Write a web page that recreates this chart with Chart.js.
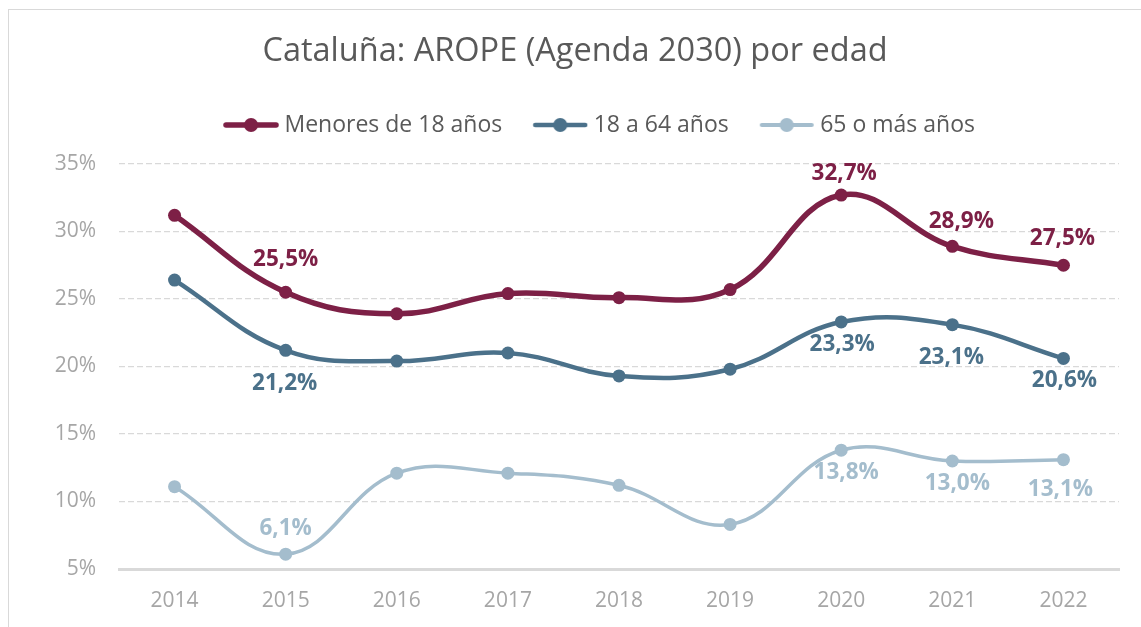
<!DOCTYPE html>
<html>
<head>
<meta charset="utf-8">
<script src="https://cdn.jsdelivr.net/npm/chart.js@4.4.0/dist/chart.umd.min.js"></script>
<style>
    html, body { margin: 0; padding: 0; background: #fff; overflow: hidden; }
    #marco { position: absolute; left: 8px; top: 9px; width: 1140px; height: 640px; border: 1px solid #d9d9d9; }
    #contenedor { position: absolute; left: 0; top: 0; width: 1141px; height: 627px; }
</style>
</head>
<body>
<div id="marco"></div>
<div id="contenedor"><canvas id="grafico"></canvas></div>
<script>
// Datos (AROPE Agenda 2030, Cataluña, %)
const anios = ['2014', '2015', '2016', '2017', '2018', '2019', '2020', '2021', '2022'];
const menores18 = [31.2, 25.5, 23.9, 25.4, 25.1, 25.7, 32.7, 28.9, 27.5];
const de18a64 = [26.4, 21.2, 20.4, 21.0, 19.3, 19.8, 23.3, 23.1, 20.6];
const mas65 = [11.1, 6.1, 12.1, 12.1, 11.2, 8.3, 13.8, 13.0, 13.1];
const ticksEjeY = [5, 10, 15, 20, 25, 30, 35];

// Colores de cada serie
const COLOR_MENORES = '#7d2046';
const COLOR_ADULTOS = '#4b718a';
const COLOR_MAYORES = '#a4bdcd';
const GRIS_TEXTO = '#595959';
const GRIS_EJES = '#a6a6a6';

// Qué puntos llevan etiqueta y dónde (índice, dx, dy respecto al punto)
const etiquetasSerie = [
    [[1, 0, -33], [6, 3, -21], [7, 9, -25], [8, -1, -27]],
    [[1, -1, 33], [6, 1, 23], [7, -1, 33], [8, 1, 22]],
    [[1, 0, -26], [6, 5, 22], [7, 5, 23], [8, -3, 30]]
];

// Función para formatear porcentajes con coma decimal
function formatoPct(v) {
    return v.toFixed(1).replace('.', ',') + '%';
}

// Marcador de leyenda: línea con círculo en medio
function marcadorLeyenda(color, grosor) {
    const c = document.createElement('canvas');
    c.width = 56;
    c.height = 16;
    const g = c.getContext('2d');
    g.strokeStyle = color;
    g.lineWidth = grosor;
    g.lineCap = 'round';
    g.beginPath();
    g.moveTo(3, 8);
    g.lineTo(53, 8);
    g.stroke();
    g.fillStyle = color;
    g.beginPath();
    g.arc(28, 8, 7, 0, Math.PI * 2);
    g.fill();
    return c;
}

const marcadores = [
    marcadorLeyenda(COLOR_MENORES, 5.5),
    marcadorLeyenda(COLOR_ADULTOS, 4.5),
    marcadorLeyenda(COLOR_MAYORES, 4)
];

// Plugin para dibujar las etiquetas de valor
const pluginEtiquetas = {
    id: 'etiquetas',
    afterDatasetsDraw(chart) {
        const ctx = chart.ctx;
        ctx.save();
        ctx.font = 'bold 22.5px "Open Sans"';
        ctx.textAlign = 'center';
        ctx.textBaseline = 'middle';
        chart.data.datasets.forEach((ds, i) => {
            const meta = chart.getDatasetMeta(i);
            ctx.fillStyle = ds.borderColor;
            etiquetasSerie[i].forEach(([idx, dx, dy]) => {
                const punto = meta.data[idx];
                ctx.fillText(formatoPct(ds.data[idx]), punto.x + dx, punto.y + dy);
            });
        });
        ctx.restore();
    }
};

// La leyenda de Excel queda un poco a la izquierda del centro del área
const pluginLeyenda = {
    id: 'ajusteLeyenda',
    afterLayout(chart) {
        chart.legend.left -= 17;
        chart.legend.right -= 17;
    }
};

function serie(etiqueta, datos, color, grosor) {
    return {
        label: etiqueta,
        data: datos,
        borderColor: color,
        backgroundColor: color,
        borderWidth: grosor,
        pointRadius: 6.5,
        pointHoverRadius: 6.5,
        pointBackgroundColor: color,
        pointBorderWidth: 0,
        tension: 0.4,
        fill: false
    };
}

const ctx = document.getElementById('grafico').getContext('2d');
new Chart(ctx, {
    type: 'line',
    data: {
        labels: anios,
        datasets: [
            serie('Menores de 18 años', menores18, COLOR_MENORES, 5.5),
            serie('18 a 64 años', de18a64, COLOR_ADULTOS, 4.5),
            serie('65 o más años', mas65, COLOR_MAYORES, 3.5)
        ]
    },
    options: {
        responsive: true,
        maintainAspectRatio: false,
        animation: false,
        layout: { padding: { left: 31, right: 22, top: 0, bottom: 0 } },
        plugins: {
            title: {
                display: true,
                text: 'Cataluña: AROPE (Agenda 2030) por edad',
                color: GRIS_TEXTO,
                font: { family: '"Open Sans"', size: 32.5, weight: 'normal' },
                padding: { top: 32.5, bottom: 6 }
            },
            legend: {
                display: true,
                position: 'top',
                fullSize: false,
                labels: {
                    color: GRIS_TEXTO,
                    font: { family: '"Open Sans"', size: 23 },
                    usePointStyle: true,
                    pointStyleWidth: 44,
                    padding: 36,
                    generateLabels(chart) {
                        const items = Chart.defaults.plugins.legend.labels.generateLabels(chart);
                        items.forEach((it, i) => { it.pointStyle = marcadores[i]; });
                        return items;
                    }
                }
            },
            // espacio entre la leyenda y el área del gráfico
            subtitle: {
                display: true,
                text: '',
                weight: 500,
                fullSize: false,
                font: { size: 10 },
                padding: { top: 0, bottom: 5.5 }
            },
            tooltip: { enabled: false }
        },
        scales: {
            x: {
                offset: true,
                grid: { display: false, drawTicks: false },
                border: { display: true, color: '#d9d9d9', width: 3 },
                ticks: {
                    color: GRIS_EJES,
                    font: { family: '"Open Sans"', size: 21 },
                    padding: 19
                },
                afterFit(s) { s.height = 58; }
            },
            y: {
                min: 5,
                max: 35,
                afterBuildTicks(s) { s.ticks = ticksEjeY.map(v => ({ value: v })); },
                grid: { color: '#d9d9d9', lineWidth: 1.3, drawTicks: false },
                border: { display: false, dash: [6, 3] },
                ticks: {
                    color: GRIS_EJES,
                    font: { family: '"Open Sans"', size: 21 },
                    padding: 23,
                    callback: v => v + '%'
                },
                afterFit(s) { s.width = 88; }
            }
        }
    },
    plugins: [pluginEtiquetas, pluginLeyenda]
});
</script>
</body>
</html>
